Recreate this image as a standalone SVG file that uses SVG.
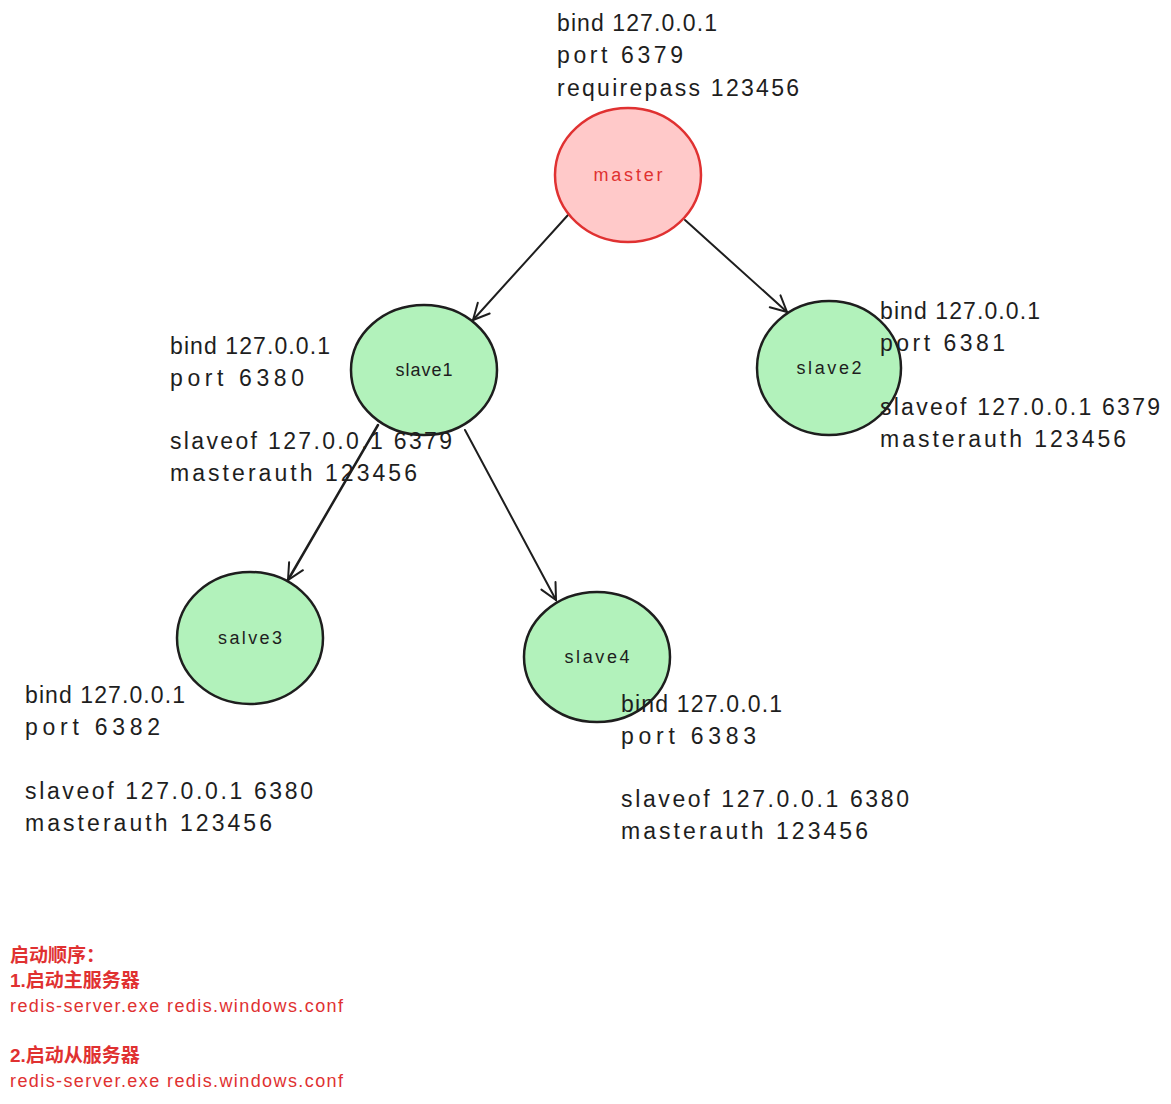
<svg xmlns="http://www.w3.org/2000/svg" width="1171" height="1104" viewBox="0 0 1171 1104">
<style>
.n{stroke:#1e1e1e;stroke-width:2.5;fill:#b2f2bb}
.m{stroke:#e03131;stroke-width:2.5;fill:#ffc9c9}
.lbl{font-family:"Liberation Sans","DejaVu Sans",sans-serif;font-size:18px;fill:#1e1e1e;text-anchor:middle}
.t{font-family:"Liberation Sans","DejaVu Sans",sans-serif;font-size:23px;fill:#1e1e1e}
.r{font-family:"Liberation Sans","Noto Sans CJK SC",sans-serif;font-size:18px;fill:#e03131}
.rb{font-family:"Liberation Sans","Noto Sans CJK SC",sans-serif;font-size:19px;fill:#e03131;font-weight:bold}
.c{stroke:#1e1e1e;stroke-width:2;fill:none;stroke-linecap:round}
</style>
<defs>
<marker id="ah" viewBox="0 0 20 20" refX="18" refY="10" markerWidth="20" markerHeight="20" markerUnits="userSpaceOnUse" orient="auto">
<path d="M2,2 L18,10 L2,18" fill="none" stroke="#1e1e1e" stroke-width="2" stroke-linecap="round"/>
</marker>
</defs>
<rect width="1171" height="1104" fill="#ffffff"/>
<g id="connectors">
<line class="c" x1="568" y1="215" x2="473" y2="320" marker-end="url(#ah)"/>
<line class="c" x1="685" y1="220" x2="787" y2="312" marker-end="url(#ah)"/>
<line class="c" x1="378" y1="425" x2="288" y2="580" marker-end="url(#ah)" style="stroke-width:2.5"/>
<line class="c" x1="465" y1="430" x2="556" y2="600" marker-end="url(#ah)"/>
</g>
<g id="master">
<ellipse class="m" cx="628" cy="175" rx="73" ry="67"/>
<text class="lbl" x="628" y="181" style="fill:#e03131" textLength="69">master</text>
</g>
<g id="slave1">
<ellipse class="n" cx="424" cy="370" rx="73" ry="65"/>
<text class="lbl" x="424" y="376" textLength="57">slave1</text>
</g>
<g id="slave2">
<ellipse class="n" cx="829" cy="368" rx="72" ry="67"/>
<text class="lbl" x="829" y="374" textLength="65">slave2</text>
</g>
<g id="salve3">
<ellipse class="n" cx="250" cy="638" rx="73" ry="66"/>
<text class="lbl" x="250" y="644" textLength="64">salve3</text>
</g>
<g id="slave4">
<ellipse class="n" cx="597" cy="657" rx="73" ry="65"/>
<text class="lbl" x="597" y="663" textLength="65">slave4</text>
</g>
<g id="master-conf">
<text class="t" x="557" y="31" textLength="160">bind 127.0.0.1</text>
<text class="t" x="557" y="63" textLength="126">port 6379</text>
<text class="t" x="557" y="96" textLength="242">requirepass 123456</text>
</g>
<g id="slave1-conf">
<text class="t" x="170" y="354" textLength="160">bind 127.0.0.1</text>
<text class="t" x="170" y="386" textLength="134">port 6380</text>
<text class="t" x="170" y="449" textLength="282">slaveof 127.0.0.1 6379</text>
<text class="t" x="170" y="481" textLength="247">masterauth 123456</text>
</g>
<g id="slave2-conf">
<text class="t" x="880" y="319" textLength="160">bind 127.0.0.1</text>
<text class="t" x="880" y="351" textLength="125">port 6381</text>
<text class="t" x="880" y="415" textLength="280">slaveof 127.0.0.1 6379</text>
<text class="t" x="880" y="447" textLength="246">masterauth 123456</text>
</g>
<g id="salve3-conf">
<text class="t" x="25" y="703" textLength="160">bind 127.0.0.1</text>
<text class="t" x="25" y="735" textLength="135">port 6382</text>
<text class="t" x="25" y="799" textLength="288">slaveof 127.0.0.1 6380</text>
<text class="t" x="25" y="831" textLength="247">masterauth 123456</text>
</g>
<g id="slave4-conf">
<text class="t" x="621" y="712" textLength="161">bind 127.0.0.1</text>
<text class="t" x="621" y="744" textLength="135">port 6383</text>
<text class="t" x="621" y="807" textLength="288">slaveof 127.0.0.1 6380</text>
<text class="t" x="621" y="839" textLength="247">masterauth 123456</text>
</g>
<g id="notes">
<text class="rb" x="10" y="962">启动顺序：</text>
<text class="rb" x="10" y="987">1.启动主服务器</text>
<text class="r" x="10" y="1012" textLength="333">redis-server.exe redis.windows.conf</text>
<text class="rb" x="10" y="1062">2.启动从服务器</text>
<text class="r" x="10" y="1087" textLength="333">redis-server.exe redis.windows.conf</text>
</g>
</svg>
